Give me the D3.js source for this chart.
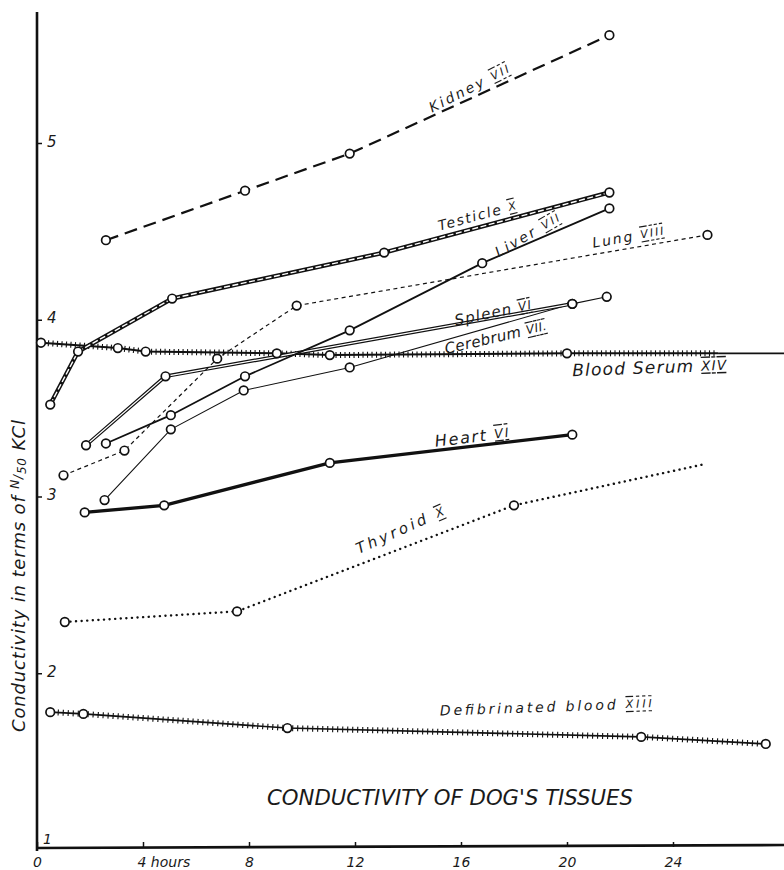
<!DOCTYPE html>
<html>
<head>
<meta charset="utf-8">
<script src="https://cdn.jsdelivr.net/npm/d3@7"></script>
<style>
  body { margin: 0; background: #fff; }
  svg { display: block; }
  .hand { font-family: "DejaVu Sans", sans-serif; font-style: italic; fill: #1a1a1a; }
  .num { text-decoration: underline overline; }
</style>
</head>
<body>
<svg width="784" height="870"></svg>
<script>
// hours after death / conductivity (in terms of N/50 KCl)
const kidneyHours = [2.6, 7.85, 11.8, 21.6];
const kidneyVals = [4.45, 4.73, 4.94, 5.61];

const testicleHours = [0.5, 1.55, 5.1, 13.1, 21.6];
const testicleVals = [3.52, 3.82, 4.12, 4.38, 4.72];

const liverHours = [2.6, 5.05, 7.85, 11.8, 16.8, 21.6];
const liverVals = [3.30, 3.46, 3.68, 3.94, 4.32, 4.63];

const lungHours = [1.0, 3.3, 6.8, 9.8, 25.3];
const lungVals = [3.12, 3.26, 3.78, 4.08, 4.48];

const spleenHours = [1.85, 4.85, 20.2];
const spleenVals = [3.29, 3.68, 4.09];

const cerebrumHours = [2.55, 5.05, 7.8, 11.8, 20.2, 21.5];
const cerebrumVals = [2.98, 3.38, 3.60, 3.73, 4.09, 4.13];

const serumHours = [0.15, 3.05, 4.1, 9.05, 11.05, 20.0];
const serumVals = [3.87, 3.84, 3.82, 3.81, 3.80, 3.81];
const serumTailHours = [20.0, 25.7, 28.4];
const serumTailVals = [3.81, 3.81, 3.81];

const heartHours = [1.8, 4.8, 11.05, 20.2];
const heartVals = [2.91, 2.95, 3.19, 3.35];

const thyroidHours = [1.05, 7.55, 18.0, 25.1];
const thyroidVals = [2.29, 2.35, 2.95, 3.18];

const defibHours = [0.5, 1.75, 9.45, 22.8, 27.5];
const defibVals = [1.78, 1.77, 1.69, 1.64, 1.60];

const yTicks = [1, 2, 3, 4, 5];
const xTicks = [0, 4, 8, 12, 16, 20, 24];
const xTickLabels = ["0", "4 hours", "8", "12", "16", "20", "24"];

const svg = d3.select("svg");
const x = d3.scaleLinear().domain([0, 28]).range([37, 779]);
const y = d3.scaleLinear().domain([1, 5]).range([850, 143]);

const zip = (hs, vs) => hs.map((h, i) => [h, vs[i]]);
const line = d3.line().x(d => x(d[0])).y(d => y(d[1]));

// axes
svg.append("line").attr("x1", x(0)).attr("x2", x(0))
  .attr("y1", 12).attr("y2", y(1) + 1)
  .attr("stroke", "#111").attr("stroke-width", 2.6);
svg.append("line").attr("x1", x(0) - 1).attr("x2", 784)
  .attr("y1", y(1) - 2).attr("y2", y(1) - 5)
  .attr("stroke", "#111").attr("stroke-width", 2.6);

const yAxis = svg.append("g")
  .attr("transform", "translate(" + x(0) + ",0)")
  .call(d3.axisRight(y).tickValues(yTicks.slice(1)).tickSize(5).tickPadding(5).tickFormat(d3.format("d")));
yAxis.select(".domain").remove();
yAxis.selectAll("line").attr("stroke", "#111").attr("stroke-width", 1.5);
yAxis.selectAll("text").attr("class", "hand").attr("font-size", 15).attr("dy", "0.2em");
svg.append("text").attr("class", "hand").attr("x", x(0) + 6).attr("y", y(1) - 6)
  .attr("font-size", 14).text(yTicks[0]);

const xAxis = svg.append("g")
  .attr("transform", "translate(0," + (y(1) - 3) + ")")
  .call(d3.axisBottom(x).tickValues(xTicks).tickSize(-5).tickPadding(10)
    .tickFormat((d, i) => xTickLabels[i]));
xAxis.select(".domain").remove();
xAxis.selectAll("line").attr("stroke", "#111").attr("stroke-width", 1.5);
xAxis.selectAll("text").attr("class", "hand").attr("font-size", 14)
  .attr("text-anchor", (d, i) => xTickLabels[i].length > 2 ? "start" : "middle")
  .attr("dx", (d, i) => xTickLabels[i].length > 2 ? -6 : 0);

// hatch ticks across a path
function hatch(path, step, len, w) {
  const node = path.node(), L = node.getTotalLength();
  const g = svg.append("g").attr("stroke", "#111").attr("stroke-width", w);
  for (let s = 3; s < L - 2; s += step) {
    const p = node.getPointAtLength(s), q = node.getPointAtLength(s + 0.5);
    const a = Math.atan2(q.y - p.y, q.x - p.x) + Math.PI / 2;
    g.append("line")
      .attr("x1", p.x - Math.cos(a) * len / 2).attr("y1", p.y - Math.sin(a) * len / 2)
      .attr("x2", p.x + Math.cos(a) * len / 2).attr("y2", p.y + Math.sin(a) * len / 2);
  }
}

function plain(data, width, dash) {
  return svg.append("path").datum(data).attr("d", line)
    .attr("fill", "none").attr("stroke", "#111").attr("stroke-width", width)
    .attr("stroke-dasharray", dash || null).attr("stroke-linecap", dash === "0.1,5.5" ? "round" : "butt");
}

// Thyroid X  (dotted)
const thyroid = zip(thyroidHours, thyroidVals);
plain(thyroid, 2.4, "0.1,5.5");

// Defibrinated blood XIII (hatched)
const defib = zip(defibHours, defibVals);
hatch(plain(defib, 1.6), 5, 6, 1.1);

// Blood serum XIV (hatched, then plain to the edge)
const serum = zip(serumHours, serumVals);
const serumTail = zip(serumTailHours, serumTailVals);
hatch(plain(serum, 2), 4.5, 6, 1.1);
hatch(plain(serumTail.slice(0, 2), 2), 4.5, 6, 1.1);
plain(serumTail.slice(1), 1.8);

// Heart VI (heavy)
plain(zip(heartHours, heartVals), 3.4);

// Cerebrum VII (thin)
plain(zip(cerebrumHours, cerebrumVals), 1.1);

// Spleen VI (double thin)
const spleen = zip(spleenHours, spleenVals);
plain(spleen, 3.6);
svg.append("path").datum(spleen).attr("d", line).attr("fill", "none")
  .attr("stroke", "#fff").attr("stroke-width", 1.2);

// Lung VIII (dashed)
plain(zip(lungHours, lungVals), 1.2, "4,3.5");

// Liver VII
plain(zip(liverHours, liverVals), 1.8);

// Testicle X (heavy double)
const testicle = zip(testicleHours, testicleVals);
plain(testicle, 4.4);
svg.append("path").datum(testicle).attr("d", line).attr("fill", "none")
  .attr("stroke", "#fff").attr("stroke-width", 1.4).attr("stroke-dasharray", "6,2.5");

// Kidney VII (long dashes)
plain(zip(kidneyHours, kidneyVals), 2.2, "13,7");

// observation circles
const circled = [
  zip(kidneyHours, kidneyVals), testicle, zip(liverHours, liverVals),
  zip(lungHours, lungVals), spleen, zip(cerebrumHours, cerebrumVals),
  serum, zip(heartHours, heartVals), thyroid.slice(0, 3), defib
];
circled.forEach(pts => {
  svg.append("g").selectAll("circle").data(pts).join("circle")
    .attr("cx", d => x(d[0])).attr("cy", d => y(d[1])).attr("r", 4.3)
    .attr("fill", "#fff").attr("stroke", "#111").attr("stroke-width", 1.7);
});

// curve names
const labels = [
  { name: "Kidney ", num: "VII", h: 16.3, v: 5.31, rot: -27, size: 14, len: 88 },
  { name: "Testicle ", num: "X", h: 16.6, v: 4.59, rot: -15, size: 14, len: 80 },
  { name: "Liver ", num: "VII", h: 18.5, v: 4.48, rot: -30, size: 14, len: 72 },
  { name: "Lung ", num: "VIII", h: 22.3, v: 4.47, rot: -10, size: 14, len: 72 },
  { name: "Spleen ", num: "VI", h: 17.2, v: 4.04, rot: -12, size: 15, len: 78 },
  { name: "Cerebrum ", num: "VII.", h: 17.3, v: 3.90, rot: -13, size: 15, len: 104 },
  { name: "Blood Serum ", num: "XIV", h: 23.1, v: 3.73, rot: -2, size: 17, len: 154 },
  { name: "Heart ", num: "VI", h: 16.4, v: 3.34, rot: -7, size: 16, len: 74 },
  { name: "Thyroid ", num: "X", h: 13.7, v: 2.81, rot: -24, size: 15, len: 95 },
  { name: "Defibrinated blood  ", num: "XIII", h: 19.2, v: 1.81, rot: -2, size: 14, len: 212 }
];
labels.forEach(l => {
  const t = svg.append("text").attr("class", "hand")
    .attr("font-size", l.size).attr("text-anchor", "middle").attr("dominant-baseline", "central")
    .attr("textLength", l.len).attr("lengthAdjust", "spacing")
    .attr("transform", "translate(" + x(l.h) + "," + y(l.v) + ") rotate(" + l.rot + ")");
  t.append("tspan").text(l.name);
  t.append("tspan").attr("class", "num").attr("font-size", l.size * 0.8).text(l.num);
});

// y title
const yt = svg.append("text").attr("class", "hand").attr("font-size", 18)
  .attr("text-anchor", "middle")
  .attr("textLength", 312).attr("lengthAdjust", "spacing")
  .attr("transform", "translate(25,576) rotate(-90)");
yt.append("tspan").text("Conductivity in terms of ");
yt.append("tspan").attr("font-size", 12).attr("dy", -6).text("N");
yt.append("tspan").attr("font-size", 12).attr("dy", 3).text("/");
yt.append("tspan").attr("font-size", 12).attr("dy", 4).text("50");
yt.append("tspan").attr("dy", -1).text(" KCl");

// chart title
svg.append("text").attr("class", "hand").attr("font-size", 21)
  .attr("x", 450).attr("y", 805).attr("text-anchor", "middle")
  .attr("textLength", 366).attr("lengthAdjust", "spacingAndGlyphs")
  .text("CONDUCTIVITY OF DOG'S TISSUES");
</script>
</body>
</html>
